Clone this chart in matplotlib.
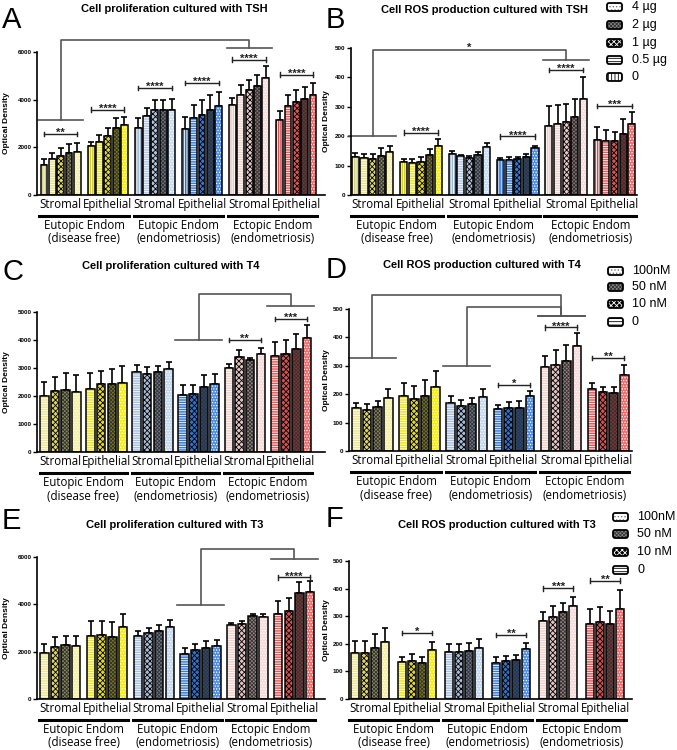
import matplotlib.pyplot as plt
import matplotlib.transforms as mtrans
from matplotlib.patches import FancyBboxPatch
import numpy as np

plt.rcParams['font.family'] = ['Liberation Sans', 'DejaVu Sans']
plt.rcParams['hatch.linewidth'] = 0.6

# ---- data ----
cell_types = ["Stromal", "Epithelial"] * 3
sites = ["Eutopic Endom\n(disease free)", "Eutopic Endom\n(endometriosis)", "Ectopic Endom\n(endometriosis)"]

tsh_legend = ["4 µg", "2 µg", "1 µg", "0.5 µg", "0"]
t_legend = ["100nM", "50 nM", "10 nM", "0"]

# TSH: bars per group are 0, 0.5, 1, 2, 4 µg
A_mean = [[1260, 1500, 1640, 1780, 1820], [2060, 2240, 2480, 2830, 2920],
          [2800, 3300, 3550, 3550, 3550], [2760, 3230, 3370, 3580, 3720],
          [3760, 4210, 4390, 4560, 4910], [3160, 3720, 3900, 4030, 4210]]
A_err = [[240, 250, 320, 370, 350], [180, 280, 320, 400, 350],
         [430, 370, 420, 420, 490], [510, 560, 630, 630, 600],
         [310, 400, 450, 460, 490], [370, 490, 520, 500, 490]]

B_mean = [[130, 127, 122, 133, 145], [112, 110, 112, 136, 167],
          [141, 132, 125, 135, 162], [118, 120, 121, 130, 160],
          [235, 240, 248, 267, 325], [188, 185, 182, 207, 240]]
B_err = [[12, 12, 17, 26, 22], [12, 12, 16, 19, 24],
         [7, 5, 7, 10, 16], [9, 8, 9, 11, 8],
         [67, 66, 60, 61, 77], [42, 35, 31, 51, 41]]

# T4 / T3: bars per group are 0, 10, 50, 100 nM
C_mean = [[2000, 2170, 2230, 2140], [2260, 2420, 2420, 2480],
          [2860, 2800, 2850, 2950], [2050, 2080, 2320, 2420],
          [3000, 3390, 3270, 3490], [3420, 3490, 3690, 4080]]
C_err = [[500, 510, 590, 600], [560, 470, 530, 600],
         [250, 240, 210, 280], [330, 300, 420, 380],
         [150, 240, 80, 240], [510, 500, 510, 440]]

D_mean = [[153, 144, 156, 188], [193, 182, 193, 226],
          [170, 160, 166, 191], [149, 152, 152, 193],
          [297, 303, 318, 368], [218, 208, 205, 267]]
D_err = [[17, 21, 21, 32], [47, 47, 57, 54],
         [23, 19, 20, 27], [13, 20, 24, 19],
         [36, 51, 56, 47], [20, 18, 21, 35]]

E_mean = [[1930, 2190, 2270, 2220], [2670, 2710, 2640, 3040],
          [2670, 2780, 2870, 3040], [1910, 2050, 2160, 2220],
          [3140, 3180, 3490, 3460], [3600, 3730, 4480, 4510]]
E_err = [[410, 410, 400, 450], [610, 590, 610, 560],
         [210, 210, 250, 310], [260, 280, 270, 280],
         [90, 100, 100, 140], [520, 540, 450, 460]]

F_mean = [[165, 168, 184, 208], [133, 139, 132, 178],
          [171, 171, 174, 186], [130, 136, 140, 181],
          [283, 298, 316, 337], [271, 278, 271, 325]]
F_err = [[45, 42, 50, 50], [20, 24, 21, 30],
         [28, 28, 30, 30], [23, 20, 19, 21],
         [34, 39, 33, 34], [54, 57, 48, 70]]

# significance: (group, height, stars) and links (group_l, y_l, group_r, y_r, y_top, stars)
A_sig = [(0, 2550, "**"), (1, 3580, "****"), (2, 4490, "****"), (3, 4700, "****"),
         (4, 5680, "****"), (5, 5050, "****")]
A_link = [(0, 3130, 4, 6170, 6520, "**")]
B_sig = [(1, 212, "****"), (3, 199, "****"), (4, 426, "****"), (5, 303, "***")]
B_link = [(0, 201, 4, 460, 492, "*")]
C_sig = [(4, 3990, "**"), (5, 4760, "***")]
C_link = [(3, 4010, 5, 5200, 5650, "*")]
D_sig = [(3, 232, "*"), (4, 435, "****"), (5, 327, "**")]
D_link = [(0, 327, 4, 474, 548, "*"), (2, 300, 4, 474, 507, "*")]
E_sig = [(5, 5140, "****")]
E_link = [(3, 3980, 5, 5920, 6340, "**")]
F_sig = [(1, 240, "*"), (3, 232, "**"), (4, 401, "***"), (5, 429, "**")]
F_link = []

# ---- styles ----
cols5 = [['#d4cf80', '#e8e290', '#e0d870', '#8c8a58', '#f4f0a8'],
         ['#d4cc28', '#ece430', '#e0d830', '#7c7a12', '#f6ee10'],
         ['#a0b4cc', '#b4c8e4', '#b0c4dc', '#6a7890', '#c8dcf4'],
         ['#3070c8', '#3c7ed6', '#3878d0', '#224c88', '#4a8ce6'],
         ['#e8c8c0', '#f0d2cc', '#e8c8c8', '#8c7070', '#f8dcdc'],
         ['#d05050', '#e05c5c', '#d85858', '#803030', '#f06a6a']]
hatch5 = ['|||||||', '-------', 'xxxxxx', 'xxxxxxxxx', '......']
hcol5 = ['white', 'white', 'black', '#333333', 'white']

cols4 = [['#ece690', '#dcd468', '#8c8a58', '#f4f0a4'],
         ['#ece428', '#e0d830', '#7c7a12', '#f6ee10'],
         ['#a8c0e0', '#a8bcd8', '#6a7890', '#c4d8f0'],
         ['#3a7ad0', '#3472c8', '#224c88', '#4a8ce6'],
         ['#f0d2cc', '#e4c4c4', '#9c8282', '#f8dada'],
         ['#e05c5c', '#d45252', '#8a3434', '#f06a6a']]
hatch4 = ['-------', 'xxxxxx', 'xxxxxxxxx', '......']
hcol4 = ['white', 'black', '#333333', 'white']

W, H = 677, 750
fig = plt.figure(figsize=(W / 100, H / 100), dpi=100)


def ftext(x, y, s, **kw):
    fig.text(x / W, 1 - y / H, s, **kw)


def panel(box, mean, err, cols, hatches, hcols, ymax, ystep, gstep, pad_l, pad_r, bw,
          sig, link, ylab_x):
    l, r, t, b = box
    hpx = b - t
    ax = fig.add_axes([l / W, 1 - b / H, (r - l) / W, hpx / H])
    mean = np.array(mean)
    err = np.array(err)
    ng, nb = mean.shape
    centers = np.arange(ng) * gstep + (nb - 1) / 2
    for g in range(ng):
        x = g * gstep + np.arange(nb)
        for i in range(nb):
            ax.bar(x[i], mean[g, i], width=bw, color=cols[g][i], edgecolor=hcols[i],
                   linewidth=0, hatch=hatches[i], zorder=2)
        ax.bar(x, mean[g], width=bw, fill=False, edgecolor='black', linewidth=1.1, zorder=3)
        ax.errorbar(x, mean[g], yerr=[np.zeros(nb), err[g]], fmt='none', ecolor='black',
                    elinewidth=1.2, capsize=2, capthick=1.2, zorder=1)
    ax.set_xlim(-pad_l, (ng - 1) * gstep + nb - 1 + pad_r)
    ax.set_ylim(0, ymax)
    ax.set_yticks(np.arange(0, ymax + 1, ystep))
    ax.set_xticks([])
    for lab in ax.get_yticklabels():
        lab.set_fontweight('bold')
    ax.tick_params(axis='y', length=3, width=1, pad=1, labelsize=4.5)
    for s in ['top', 'right']:
        ax.spines[s].set_visible(False)
    for s in ['left', 'bottom']:
        ax.spines[s].set_linewidth(1.2)
    ftext(ylab_x, (t + b) / 2, "Optical Density", rotation=90, ha='center', va='center',
          fontsize=6, fontweight='bold')

    xt = ax.get_xaxis_transform()
    for g in range(ng):
        ax.annotate(cell_types[g], (centers[g], 0), xycoords=xt, xytext=(0, -3),
                    textcoords='offset pixels', ha='center', va='top', fontsize=8.3,
                    family='Open Sans')
    line_t = mtrans.offset_copy(xt, fig=fig, y=-21, units='dots')
    for k in range(3):
        x0 = centers[2 * k] - 0.45 * gstep
        x1 = centers[2 * k + 1] + 0.45 * gstep
        ax.plot([x0, x1], [0, 0], transform=line_t, color='black', lw=2.2, clip_on=False)
        ax.annotate(sites[k], ((x0 + x1) / 2, 0), xycoords=xt, xytext=(0, -24),
                    textcoords='offset pixels', ha='center', va='top', fontsize=8.3,
                    family='Open Sans', linespacing=1.05)

    cap = ymax / hpx * 2.2
    for g, y, st in sig:
        x0, x1 = g * gstep, g * gstep + nb - 1
        ax.plot([x0, x1], [y, y], color='#222222', lw=1, clip_on=False)
        ax.plot([x0, x0], [y - cap, y + cap], color='#222222', lw=1, clip_on=False)
        ax.plot([x1, x1], [y - cap, y + cap], color='#222222', lw=1, clip_on=False)
        ax.annotate(st, ((x0 + x1) / 2, y), xytext=(0, -2), textcoords='offset pixels',
                    ha='center', va='baseline', fontsize=8, fontweight='bold', color='#222222')
    for gl, yl, gr, yr, ytop, st in link:
        lc = '#555555'
        xl0, xl1 = gl * gstep - 0.7, gl * gstep + nb - 1 + 0.7
        xr0, xr1 = gr * gstep - 0.7, gr * gstep + nb - 1 + 0.7
        cl, cr = centers[gl], centers[gr]
        ax.plot([xl0, xl1], [yl, yl], color=lc, lw=1.2, clip_on=False)
        ax.plot([cl, cl, cr, cr], [yl, ytop, ytop, yr], color=lc, lw=1.2, clip_on=False)
        ax.plot([xr0, xr1], [yr, yr], color=lc, lw=1.2, clip_on=False)
        ax.annotate(st, ((cl + cr) / 2, ytop), xytext=(0, 0), textcoords='offset pixels',
                    ha='center', va='baseline', fontsize=8, fontweight='bold', color='#222222')
    return ax


def legend(labels, hatches, faces, hcols, px, tx, rows):
    for lab, h, fc, hc, y in zip(labels, hatches, faces, hcols, rows):
        p = FancyBboxPatch((px / W, 1 - (y + 4) / H), 15 / W, 8 / H,
                           boxstyle='round,pad=0,rounding_size=0.003',
                           transform=fig.transFigure, facecolor=fc, edgecolor=hc,
                           hatch=h, linewidth=0)
        fig.add_artist(p)
        q = FancyBboxPatch((px / W, 1 - (y + 4) / H), 15 / W, 8 / H,
                           boxstyle='round,pad=0,rounding_size=0.003',
                           transform=fig.transFigure, fill=False, edgecolor='black',
                           linewidth=1.3)
        fig.add_artist(q)
        ftext(tx, y, lab, ha='left', va='center', fontsize=9)


panel((37, 325, 52, 195), A_mean, A_err, cols5, hatch5, hcol5, 6000, 2000,
      5.66, 0.84, 1.45, 0.82, A_sig, A_link, 7)
panel((351, 637, 48, 195), B_mean, B_err, cols5, hatch5, hcol5, 500, 100,
      5.6, 0.5, 0.6, 0.82, B_sig, B_link, 326)
panel((37, 325, 312, 452), C_mean, C_err, cols4, hatch4, hcol4, 5000, 1000,
      4.33, 0.69, 1.7, 0.8, C_sig, C_link, 7)
panel((349, 632, 309, 451), D_mean, D_err, cols4, hatch4, hcol4, 500, 100,
      4.41, 0.69, 0.72, 0.8, D_sig, D_link, 326)
panel((37, 325, 557, 699), E_mean, E_err, cols4, hatch4, hcol4, 6000, 2000,
      4.4, 0.69, 1.4, 0.8, E_sig, E_link, 7)
panel((349, 632, 561, 699), F_mean, F_err, cols4, hatch4, hcol4, 500, 100,
      4.68, 0.6, 1.17, 0.8, F_sig, F_link, 326)

# titles and panel letters
titles = ["Cell proliferation cultured with TSH", "Cell ROS production cultured with TSH",
          "Cell proliferation cultured with T4", "Cell ROS production cultured with T4",
          "Cell proliferation cultured with T3", "Cell ROS production cultured with T3"]
title_pos = [(174, 9), (484, 10), (171, 266), (482, 265), (175, 525), (497, 525)]
for s, (x, y) in zip(titles, title_pos):
    ftext(x, y, s, ha='center', va='center', fontsize=8, fontweight='bold')
letters = ["A", "B", "C", "D", "E", "F"]
letter_pos = [(2, 6), (326, 6), (2, 258), (326, 256), (2, 507), (326, 505)]
for s, (x, y) in zip(letters, letter_pos):
    ftext(x, y, s, ha='left', va='top', fontsize=21)

# legends
leg5_h = ['.....', 'xxxxxxxxx', 'xxxxxx', '-----', '|||||']
leg5_f = ['white', '#888888', 'black', 'white', 'white']
leg5_c = ['#777777', '#333333', 'white', 'black', 'black']
legend(tsh_legend, leg5_h, leg5_f, leg5_c, 607, 632, [7, 25, 43, 60, 77])
leg4_h = ['.....', 'xxxxxxxxx', 'xxxxxx', '-----']
leg4_f = ['white', '#888888', 'black', 'white']
leg4_c = ['#777777', '#333333', 'white', 'black']
legend(t_legend, leg4_h, leg4_f, leg4_c, 608, 632, [271, 287, 304, 322])
legend(t_legend, leg4_h, leg4_f, leg4_c, 613, 637, [517, 534, 552, 570])

fig.savefig('out.png', dpi=100)
